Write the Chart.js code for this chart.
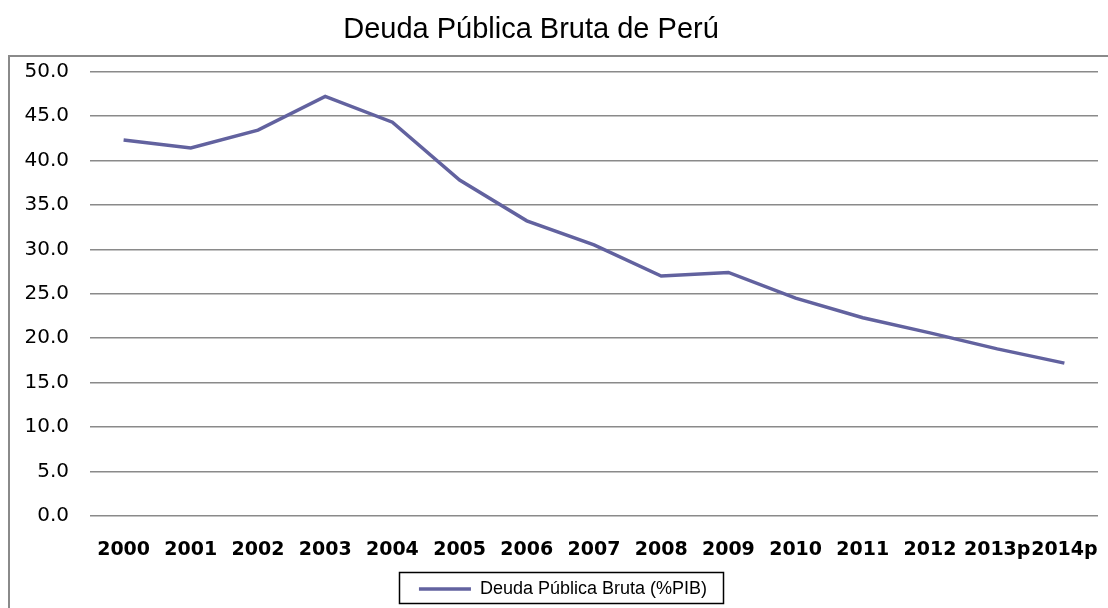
<!DOCTYPE html>
<html>
<head>
<meta charset="utf-8">
<script src="https://cdn.jsdelivr.net/npm/chart.js@4.4.0/dist/chart.umd.min.js"></script>
<style>
  html, body { margin: 0; padding: 0; background: #fff; }
  #wrap { width: 1108px; height: 608px; }
</style>
</head>
<body>
<div id="wrap"><canvas id="debtChart" width="1108" height="608"></canvas></div>
<script>
// Data
const years = ['2000', '2001', '2002', '2003', '2004', '2005', '2006', '2007',
  '2008', '2009', '2010', '2011', '2012', '2013p', '2014p'];
const debtPct = [42.3, 41.4, 43.4, 47.2, 44.3, 37.8, 33.2, 30.5,
  27.0, 27.4, 24.5, 22.3, 20.6, 18.8, 17.2];
const seriesLabel = 'Deuda Pública Bruta (%PIB)';
const chartTitle = 'Deuda Pública Bruta de Perú';

const lineColor = '#62629f';
const legendFont = { family: "'Liberation Sans', Arial, sans-serif", size: 18 };

// Outer frame + legend box, like the spreadsheet chart
const framePlugin = {
  id: 'frame',
  beforeDraw(chart) {
    const ctx = chart.ctx;
    ctx.save();
    ctx.fillStyle = '#fff';
    ctx.fillRect(0, 0, chart.width, chart.height);
    ctx.strokeStyle = '#8a8a8a';
    ctx.lineWidth = 2;
    ctx.strokeRect(9, 56, 1200, 600);
    ctx.restore();
  },
  afterUpdate(chart) {
    // nudge title and legend to where the reference has them
    const t = chart.titleBlock;
    if (t) { t.left -= 18; t.right -= 18; }
    const lg = chart.legend;
    if (lg) { lg.left += 14; lg.right += 14; lg.adjustHitBoxes(); }
  },
  afterDraw(chart) {
    const lg = chart.legend;
    if (!lg) return;
    const ctx = chart.ctx;
    ctx.save();
    ctx.font = legendFont.size + 'px ' + legendFont.family;
    const textW = ctx.measureText(seriesLabel).width;
    const itemW = 52 + legendFont.size / 2 + textW;
    const cx = (lg.left + lg.right) / 2;
    const x0 = Math.round(cx - itemW / 2 - 20) + 0.5;
    const w = Math.round(itemW + 36);
    ctx.strokeStyle = '#000';
    ctx.lineWidth = 1.5;
    ctx.strokeRect(x0, 572.5, w, 31);
    ctx.restore();
  }
};

new Chart(document.getElementById('debtChart'), {
  type: 'line',
  data: {
    labels: years,
    datasets: [{
      label: seriesLabel,
      data: debtPct,
      borderColor: lineColor,
      backgroundColor: lineColor,
      borderWidth: 3.5,
      pointRadius: 0,
      pointHoverRadius: 0,
      tension: 0,
      fill: false
    }]
  },
  options: {
    responsive: false,
    animation: false,
    layout: {
      padding: { left: 0, right: 10, top: 0, bottom: 0 }
    },
    plugins: {
      title: {
        display: true,
        text: chartTitle,
        color: '#000',
        font: { family: "'Liberation Sans Narrow', 'Arial Narrow', 'Liberation Sans', sans-serif", size: 29, weight: 'normal' },
        padding: { top: 13, bottom: 23.7 }
      },
      legend: {
        position: 'bottom',
        labels: {
          color: '#000',
          font: legendFont,
          usePointStyle: true,
          pointStyle: 'line',
          pointStyleWidth: 52,
          padding: 2
        }
      },
      tooltip: { enabled: false }
    },
    scales: {
      x: {
        offset: true,
        grid: { display: false, drawTicks: false, offset: false },
        border: { display: false },
        ticks: {
          color: '#000',
          font: { family: "'DejaVu Sans', Verdana, sans-serif", size: 19, weight: 'bold' },
          padding: 23,
          maxRotation: 0,
          minRotation: 0,
          autoSkip: false
        },
        afterFit(scale) {
          scale.height = 62;
          scale.paddingLeft = 0;
          scale.paddingRight = 0;
        }
      },
      y: {
        min: 0,
        max: 50,
        grid: { color: '#8a8a8a', lineWidth: 1.5, drawTicks: false },
        border: { display: false },
        ticks: {
          stepSize: 5,
          color: '#000',
          font: { family: "'DejaVu Sans', Verdana, sans-serif", size: 20 },
          padding: 21,
          callback: function(value) {
            return value.toFixed(1);
          }
        },
        afterFit(scale) { scale.width = 90; }
      }
    }
  },
  plugins: [framePlugin]
});
</script>
</body>
</html>
